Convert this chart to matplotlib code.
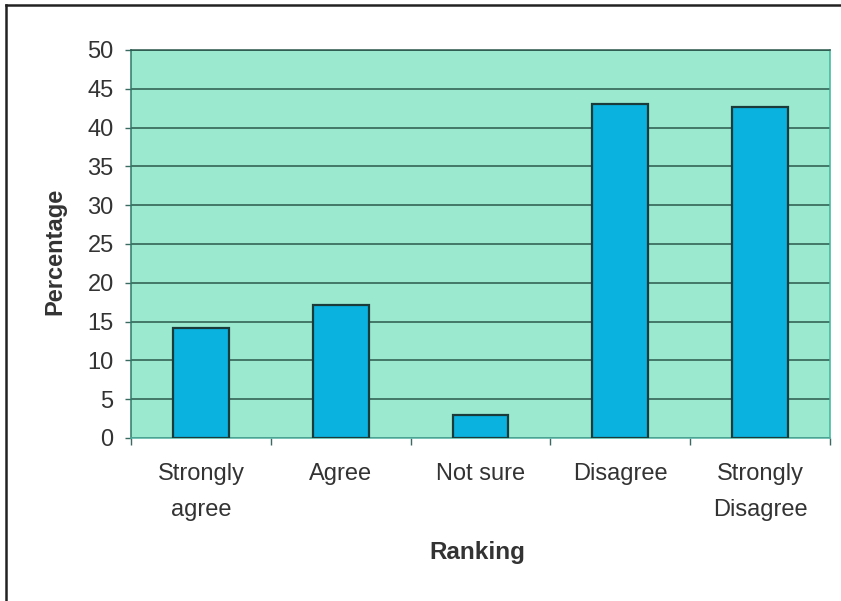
import matplotlib
matplotlib.use("Agg")
import matplotlib.pyplot as plt
from matplotlib.lines import Line2D
import numpy as np

categories = ["Strongly\nagree", "Agree", "Not sure", "Disagree", "Strongly\nDisagree"]
percentages = [14.2, 17.2, 3.0, 43.0, 42.7]
y_ticks = [0, 5, 10, 15, 20, 25, 30, 35, 40, 45, 50]

plt.rcParams["font.family"] = ["Liberation Sans", "DejaVu Sans"]

W, H = 841, 601
fig = plt.figure(figsize=(W / 100, H / 100), dpi=100)
fig.patch.set_facecolor("white")

# plot area in pixel coordinates
left, right, top, bottom = 131, 830, 50, 438
ax = fig.add_axes([left / W, (H - bottom) / H, (right - left) / W, (bottom - top) / H])
ax.set_facecolor("#9BE9CF")

x = np.arange(len(categories))
ax.bar(x, percentages, width=0.4, color="#0AB2E0", edgecolor="#1B3B3B",
       linewidth=1.6, zorder=3)

ax.set_xlim(-0.5, len(categories) - 0.5)
ax.set_ylim(0, 50)
ax.set_yticks(y_ticks)
ax.set_yticklabels([str(v) for v in y_ticks], fontsize=17, color="#333333")

# horizontal gridlines
ax.yaxis.grid(True, color="#2B574B", linewidth=1.1, zorder=1)
ax.set_axisbelow(True)

# category labels centred on bars, ticks on category boundaries
ax.set_xticks(np.arange(len(categories) + 1) - 0.5)
ax.set_xticklabels([])
ax.tick_params(axis="x", length=5, width=1.0, color="#3A6A60", direction="out")
ax.tick_params(axis="y", length=4.5, width=1.0, color="#3A6A60", direction="out", pad=8)
for xi, lab in zip(x, categories):
    ax.text(xi, -3.2, lab, ha="center", va="top", fontsize=17, color="#333333",
            linespacing=1.85, transform=ax.transData)

for side in ["left", "right", "top", "bottom"]:
    ax.spines[side].set_linewidth(1.1)
ax.spines["left"].set_color("#2E7A68")
ax.spines["right"].set_color("#3FB59A")
ax.spines["top"].set_color("#2B574B")
ax.spines["bottom"].set_color("#4FB0A0")

fig.text(55 / W, 1 - 251 / H, "Percentage", rotation=90, ha="center", va="center",
         fontsize=17, fontweight="bold", color="#333333")
fig.text(477 / W, 1 - 553 / H, "Ranking", ha="center", va="center",
         fontsize=17.5, fontweight="bold", color="#333333")

# outer frame: top and left edges
fig.add_artist(Line2D([6 / W, 1.0], [1 - 5 / H, 1 - 5 / H], transform=fig.transFigure,
                      color="#222222", linewidth=1.8))
fig.add_artist(Line2D([6 / W, 6 / W], [0.0, 1 - 5 / H], transform=fig.transFigure,
                      color="#222222", linewidth=1.8))

fig.savefig("out.png", dpi=100)
